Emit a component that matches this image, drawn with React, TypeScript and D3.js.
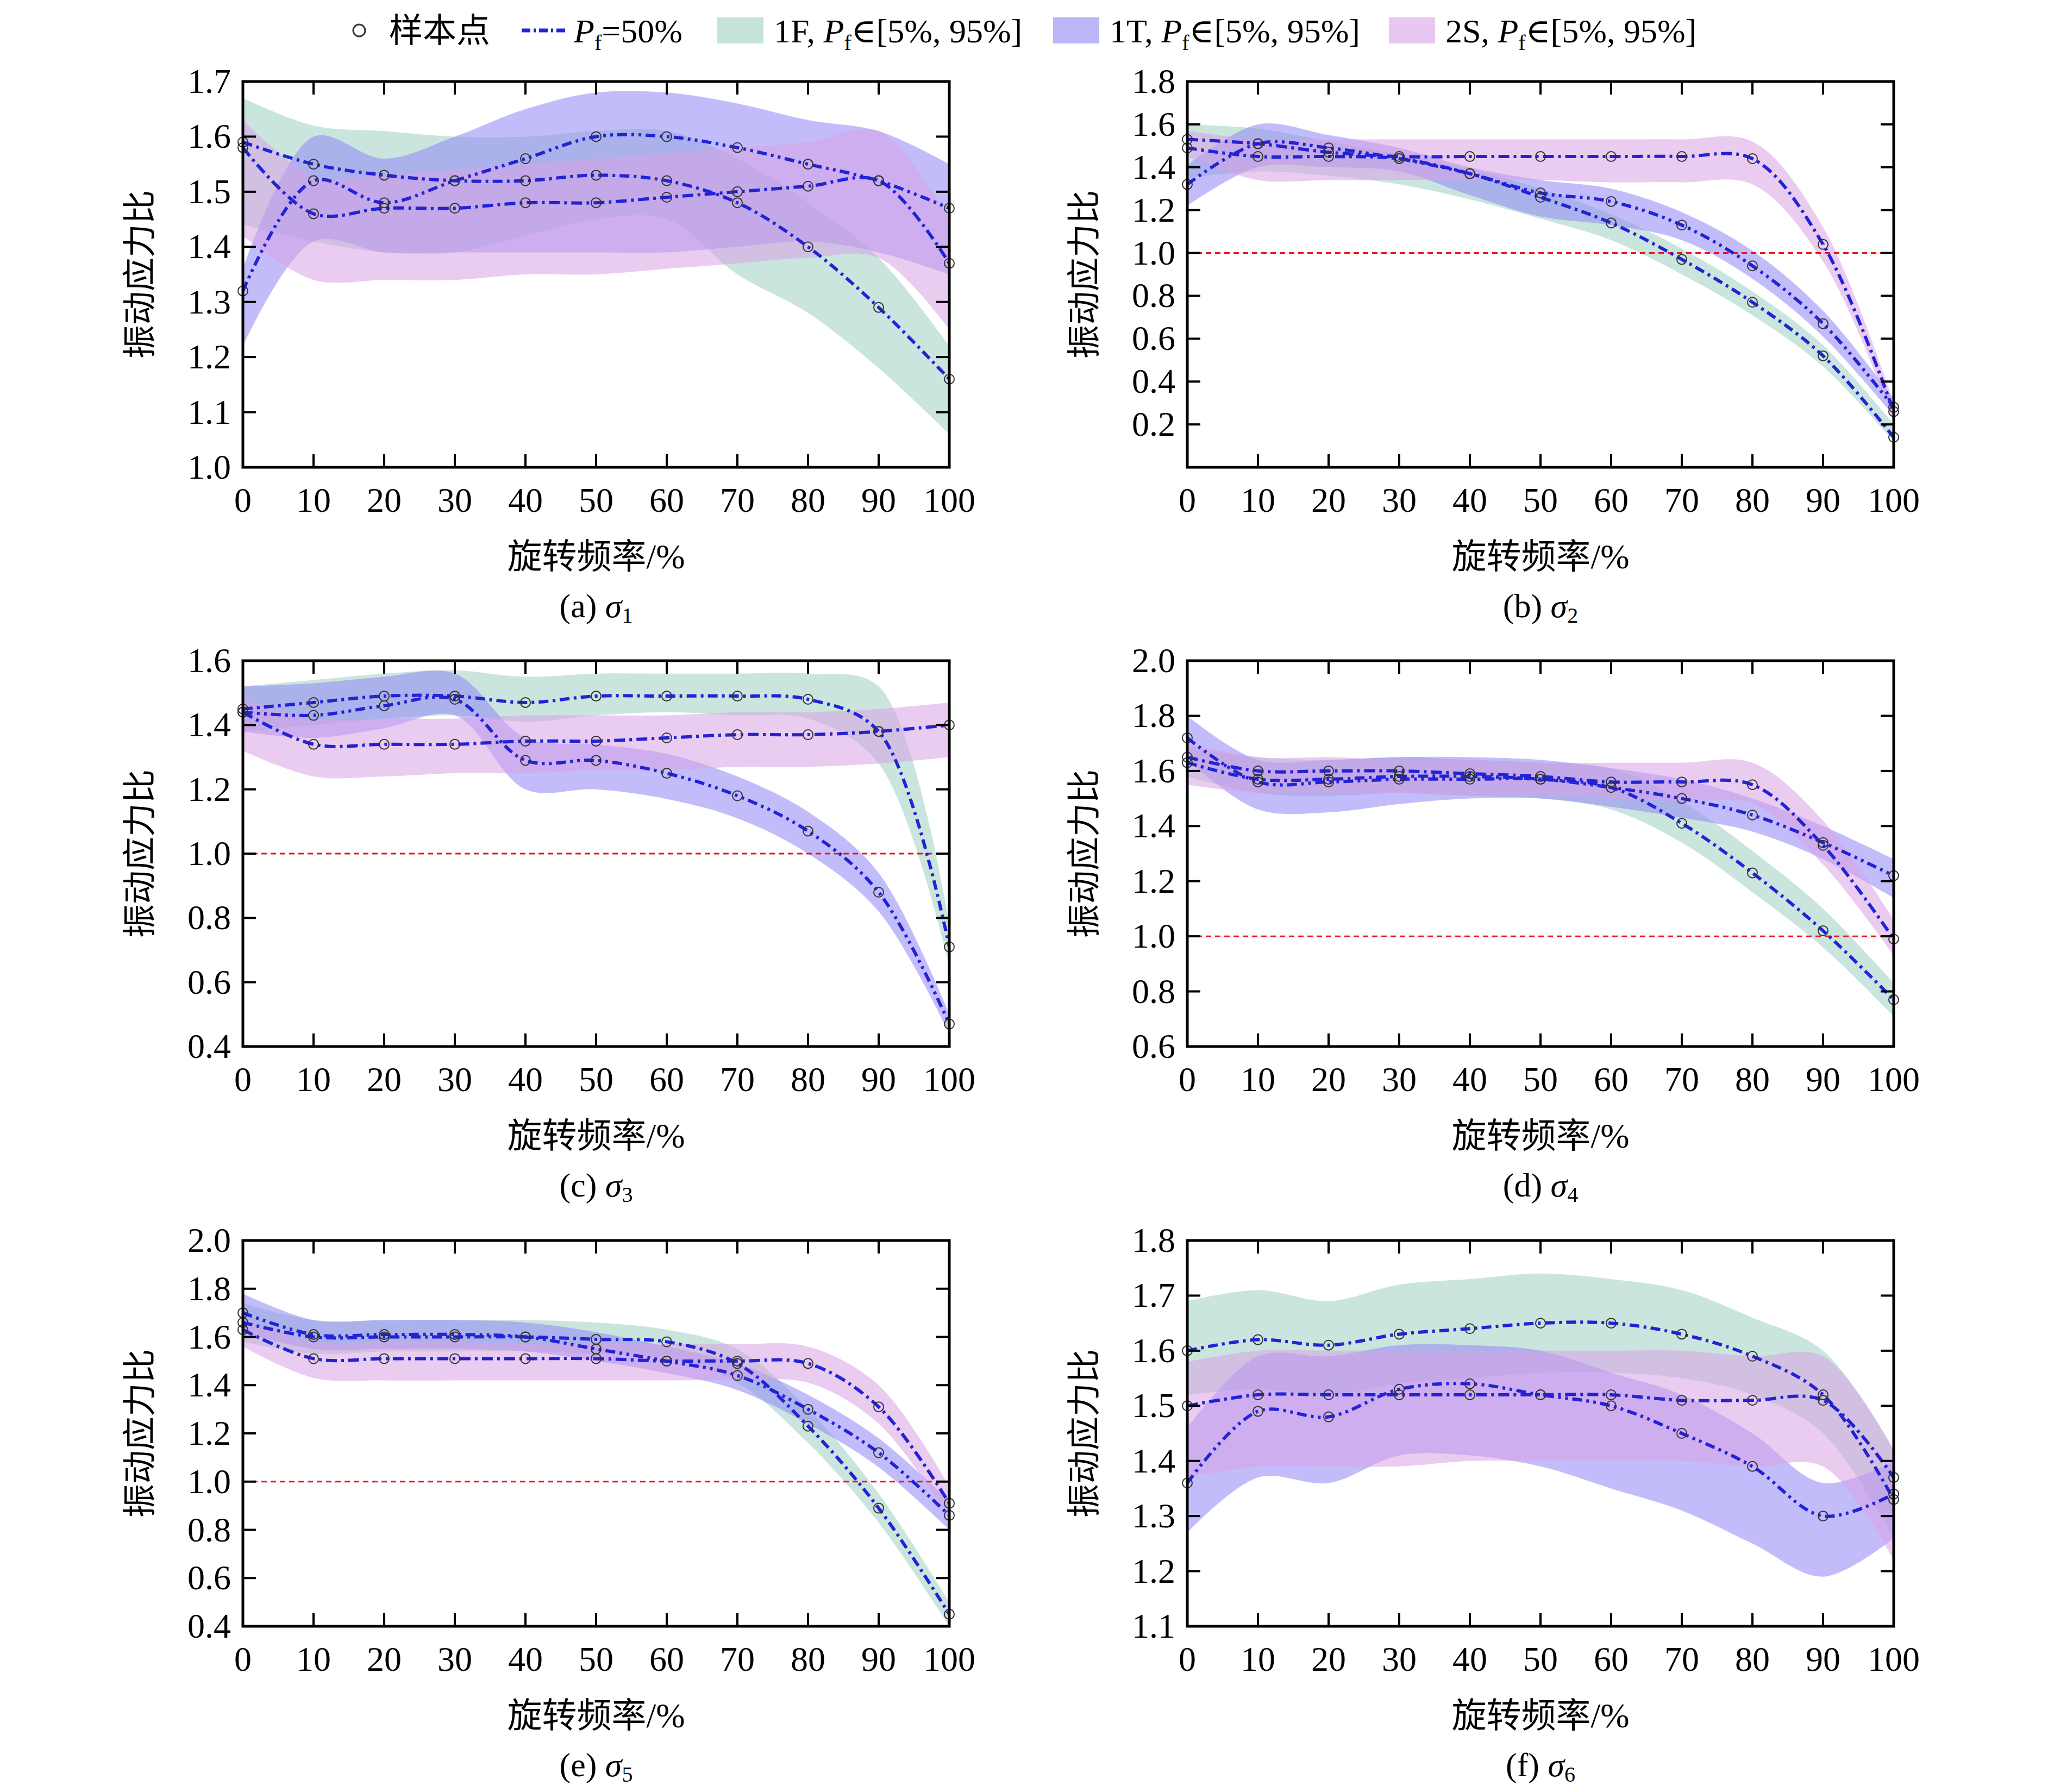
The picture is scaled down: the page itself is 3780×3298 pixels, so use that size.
import * as d3 from "d3";
import { useEffect, useRef } from "react";

const xs = [0, 10, 20, 30, 40, 50, 60, 70, 80, 90, 100];
const xTicks = xs;
const series = ["1F", "1T", "2S"];
const bandColors = ["#9fd0c2", "#8f86f5", "#d9a3e6"];

type Panel = {
  label: string;
  sub: string;
  domain: [number, number];
  ticks: number[];
  redLine: boolean;
  med: number[][];
  hi: number[][];
  lo: number[][];
};

const panelA: Panel = {
  label: "(a)", sub: "1", domain: [1.0, 1.7], ticks: [1.0, 1.1, 1.2, 1.3, 1.4, 1.5, 1.6, 1.7], redLine: false,
  med: [
    [1.59, 1.55, 1.53, 1.52, 1.52, 1.53, 1.52, 1.48, 1.40, 1.29, 1.16],
    [1.32, 1.52, 1.48, 1.52, 1.56, 1.60, 1.60, 1.58, 1.55, 1.52, 1.47],
    [1.58, 1.46, 1.47, 1.47, 1.48, 1.48, 1.49, 1.50, 1.51, 1.52, 1.37],
  ],
  hi: [
    [1.67, 1.62, 1.61, 1.60, 1.60, 1.61, 1.61, 1.56, 1.48, 1.38, 1.22],
    [1.36, 1.60, 1.56, 1.60, 1.65, 1.68, 1.68, 1.66, 1.63, 1.61, 1.55],
    [1.63, 1.53, 1.53, 1.54, 1.55, 1.56, 1.57, 1.58, 1.59, 1.61, 1.45],
  ],
  lo: [
    [1.44, 1.41, 1.39, 1.39, 1.42, 1.45, 1.45, 1.35, 1.28, 1.18, 1.06],
    [1.22, 1.41, 1.39, 1.39, 1.39, 1.39, 1.39, 1.40, 1.41, 1.39, 1.35],
    [1.42, 1.34, 1.34, 1.34, 1.35, 1.35, 1.36, 1.37, 1.38, 1.38, 1.25],
  ],
};

const panelB: Panel = {
  label: "(b)", sub: "2", domain: [0.0, 1.8], ticks: [0.2, 0.4, 0.6, 0.8, 1.0, 1.2, 1.4, 1.6, 1.8], redLine: true,
  med: [
    [1.49, 1.45, 1.45, 1.44, 1.37, 1.26, 1.14, 0.97, 0.77, 0.52, 0.14],
    [1.32, 1.51, 1.49, 1.44, 1.37, 1.28, 1.24, 1.13, 0.94, 0.67, 0.28],
    [1.53, 1.51, 1.47, 1.45, 1.45, 1.45, 1.45, 1.45, 1.44, 1.04, 0.26],
  ],
  hi: [
    [1.60, 1.58, 1.52, 1.46, 1.39, 1.30, 1.18, 1.02, 0.82, 0.57, 0.20],
    [1.41, 1.60, 1.55, 1.49, 1.40, 1.34, 1.30, 1.19, 1.01, 0.73, 0.32],
    [1.57, 1.53, 1.53, 1.53, 1.53, 1.53, 1.53, 1.53, 1.52, 1.12, 0.30],
  ],
  lo: [
    [1.35, 1.38, 1.36, 1.32, 1.25, 1.16, 1.06, 0.90, 0.71, 0.47, 0.12],
    [1.22, 1.40, 1.40, 1.38, 1.27, 1.17, 1.13, 1.06, 0.88, 0.61, 0.24],
    [1.45, 1.34, 1.34, 1.34, 1.34, 1.34, 1.33, 1.33, 1.32, 0.96, 0.22],
  ],
};

const panelC: Panel = {
  label: "(c)", sub: "3", domain: [0.4, 1.6], ticks: [0.4, 0.6, 0.8, 1.0, 1.2, 1.4, 1.6], redLine: true,
  med: [
    [1.45, 1.47, 1.49, 1.49, 1.47, 1.49, 1.49, 1.49, 1.48, 1.38, 0.71],
    [1.44, 1.43, 1.46, 1.48, 1.29, 1.29, 1.25, 1.18, 1.07, 0.88, 0.47],
    [1.44, 1.34, 1.34, 1.34, 1.35, 1.35, 1.36, 1.37, 1.37, 1.38, 1.40],
  ],
  hi: [
    [1.52, 1.54, 1.56, 1.57, 1.55, 1.56, 1.56, 1.56, 1.56, 1.52, 0.78],
    [1.52, 1.53, 1.55, 1.56, 1.36, 1.34, 1.31, 1.24, 1.13, 0.94, 0.50],
    [1.48, 1.42, 1.42, 1.42, 1.43, 1.43, 1.43, 1.44, 1.44, 1.45, 1.47],
  ],
  lo: [
    [1.38, 1.40, 1.42, 1.43, 1.41, 1.43, 1.44, 1.43, 1.42, 1.28, 0.65],
    [1.38, 1.36, 1.39, 1.43, 1.20, 1.20, 1.17, 1.11, 1.00, 0.82, 0.44],
    [1.32, 1.24, 1.24, 1.25, 1.25, 1.26, 1.26, 1.27, 1.27, 1.28, 1.30],
  ],
};

const panelD: Panel = {
  label: "(d)", sub: "4", domain: [0.6, 2.0], ticks: [0.6, 0.8, 1.0, 1.2, 1.4, 1.6, 1.8, 2.0], redLine: true,
  med: [
    [1.63, 1.57, 1.57, 1.58, 1.58, 1.57, 1.54, 1.41, 1.23, 1.02, 0.77],
    [1.72, 1.56, 1.56, 1.57, 1.57, 1.57, 1.54, 1.50, 1.44, 1.34, 1.22],
    [1.65, 1.60, 1.60, 1.60, 1.59, 1.58, 1.56, 1.56, 1.55, 1.33, 0.99],
  ],
  hi: [
    [1.69, 1.65, 1.64, 1.65, 1.64, 1.63, 1.61, 1.49, 1.31, 1.10, 0.83],
    [1.80, 1.64, 1.64, 1.65, 1.65, 1.64, 1.61, 1.57, 1.50, 1.40, 1.28],
    [1.70, 1.65, 1.65, 1.64, 1.64, 1.63, 1.63, 1.63, 1.63, 1.42, 1.06],
  ],
  lo: [
    [1.58, 1.52, 1.51, 1.52, 1.51, 1.50, 1.46, 1.34, 1.16, 0.96, 0.71],
    [1.64, 1.46, 1.45, 1.48, 1.50, 1.50, 1.47, 1.43, 1.38, 1.28, 1.14],
    [1.55, 1.52, 1.52, 1.52, 1.51, 1.51, 1.50, 1.49, 1.48, 1.26, 0.93],
  ],
};

const panelE: Panel = {
  label: "(e)", sub: "5", domain: [0.4, 2.0], ticks: [0.4, 0.6, 0.8, 1.0, 1.2, 1.4, 1.6, 1.8, 2.0], redLine: true,
  med: [
    [1.66, 1.60, 1.60, 1.60, 1.60, 1.59, 1.58, 1.49, 1.23, 0.89, 0.45],
    [1.70, 1.61, 1.61, 1.61, 1.60, 1.55, 1.50, 1.44, 1.30, 1.12, 0.86],
    [1.63, 1.51, 1.51, 1.51, 1.51, 1.51, 1.50, 1.50, 1.49, 1.31, 0.91],
  ],
  hi: [
    [1.74, 1.67, 1.67, 1.67, 1.67, 1.66, 1.63, 1.55, 1.30, 0.95, 0.50],
    [1.78, 1.67, 1.67, 1.67, 1.66, 1.62, 1.56, 1.49, 1.36, 1.18, 0.92],
    [1.68, 1.58, 1.58, 1.58, 1.57, 1.57, 1.57, 1.57, 1.56, 1.40, 0.98],
  ],
  lo: [
    [1.58, 1.53, 1.54, 1.54, 1.54, 1.53, 1.51, 1.41, 1.16, 0.83, 0.40],
    [1.62, 1.55, 1.55, 1.55, 1.54, 1.50, 1.45, 1.38, 1.24, 1.06, 0.80],
    [1.56, 1.43, 1.42, 1.42, 1.42, 1.42, 1.42, 1.42, 1.41, 1.24, 0.85],
  ],
};

const panelF: Panel = {
  label: "(f)", sub: "6", domain: [1.1, 1.8], ticks: [1.1, 1.2, 1.3, 1.4, 1.5, 1.6, 1.7, 1.8], redLine: false,
  med: [
    [1.60, 1.62, 1.61, 1.63, 1.64, 1.65, 1.65, 1.63, 1.59, 1.52, 1.33],
    [1.36, 1.49, 1.48, 1.53, 1.54, 1.52, 1.50, 1.45, 1.39, 1.30, 1.34],
    [1.50, 1.52, 1.52, 1.52, 1.52, 1.52, 1.52, 1.51, 1.51, 1.51, 1.37],
  ],
  hi: [
    [1.69, 1.71, 1.69, 1.72, 1.73, 1.74, 1.73, 1.71, 1.66, 1.60, 1.42],
    [1.46, 1.59, 1.59, 1.61, 1.61, 1.60, 1.56, 1.52, 1.45, 1.36, 1.40],
    [1.58, 1.60, 1.60, 1.60, 1.60, 1.60, 1.60, 1.60, 1.59, 1.59, 1.42],
  ],
  lo: [
    [1.52, 1.53, 1.52, 1.54, 1.55, 1.56, 1.56, 1.55, 1.52, 1.45, 1.26],
    [1.27, 1.37, 1.36, 1.41, 1.41, 1.39, 1.35, 1.31, 1.25, 1.19, 1.26],
    [1.37, 1.39, 1.39, 1.39, 1.40, 1.40, 1.40, 1.40, 1.39, 1.39, 1.22],
  ],
};

const panels = [panelA, panelB, panelC, panelD, panelE, panelF];

const W = 3780;
const H = 3298;
const FONT = "'Liberation Serif', 'DejaVu Serif', serif";
const CJK = "'Noto Sans CJK SC', sans-serif";
const lineColor = "#2222d6";

export default function App() {
  const ref = useRef<SVGSVGElement | null>(null);

  useEffect(() => {
    if (!ref.current) return;
    const svg = d3.select(ref.current);
    svg.selectAll("*").remove();
    svg.append("rect").attr("width", W).attr("height", H).attr("fill", "#fff");

    const pw = 1300;
    const ph = 710;
    const lefts = [447, 2185];
    const tops = [150, 1216, 2283];

    panels.forEach((p, i) => {
      const left = lefts[i % 2];
      const top = tops[Math.floor(i / 2)];
      const g = svg.append("g").attr("transform", `translate(${left},${top})`);
      const x = d3.scaleLinear().domain([0, 100]).range([0, pw]);
      const y = d3.scaleLinear().domain(p.domain).range([ph, 0]);
      const clipId = `clip${i}`;
      g.append("clipPath").attr("id", clipId).append("rect").attr("width", pw).attr("height", ph);
      const plot = g.append("g").attr("clip-path", `url(#${clipId})`);

      series.forEach((_, s) => {
        const area = d3
          .area<number>()
          .x((_, k) => x(xs[k]))
          .y0((_, k) => y(p.lo[s][k]))
          .y1((_, k) => y(p.hi[s][k]))
          .curve(d3.curveCatmullRom);
        plot.append("path").attr("d", area(p.hi[s])).attr("fill", bandColors[s]).attr("fill-opacity", 0.55);
      });

      if (p.redLine) {
        plot
          .append("line")
          .attr("x1", 0).attr("x2", pw)
          .attr("y1", y(1)).attr("y2", y(1))
          .attr("stroke", "#e8161b").attr("stroke-width", 3).attr("stroke-dasharray", "10 7");
      }

      const dashes = ["18 8 5 8", "18 8 5 8 5 8", "20 8 5 8"];
      series.forEach((_, s) => {
        const line = d3
          .line<number>()
          .x((_, k) => x(xs[k]))
          .y((v) => y(v))
          .curve(d3.curveCatmullRom);
        plot
          .append("path")
          .attr("d", line(p.med[s]))
          .attr("fill", "none")
          .attr("stroke", lineColor)
          .attr("stroke-width", 6)
          .attr("stroke-dasharray", dashes[s]);
        p.med[s].forEach((v, k) => {
          g.append("circle")
            .attr("cx", x(xs[k])).attr("cy", y(v)).attr("r", 9)
            .attr("fill", "none").attr("stroke", "#333").attr("stroke-width", 2);
        });
      });

      g.append("rect").attr("width", pw).attr("height", ph).attr("fill", "none").attr("stroke", "#000").attr("stroke-width", 5);
      xTicks.forEach((t) => {
        g.append("line").attr("x1", x(t)).attr("x2", x(t)).attr("y1", ph).attr("y2", ph - 24).attr("stroke", "#000").attr("stroke-width", 4);
        g.append("line").attr("x1", x(t)).attr("x2", x(t)).attr("y1", 0).attr("y2", 24).attr("stroke", "#000").attr("stroke-width", 4);
        g.append("text").attr("x", x(t)).attr("y", ph + 82).attr("text-anchor", "middle")
          .attr("font-family", FONT).attr("font-size", 64).text(t);
      });
      p.ticks.forEach((t) => {
        g.append("line").attr("x1", 0).attr("x2", 24).attr("y1", y(t)).attr("y2", y(t)).attr("stroke", "#000").attr("stroke-width", 4);
        g.append("line").attr("x1", pw).attr("x2", pw - 24).attr("y1", y(t)).attr("y2", y(t)).attr("stroke", "#000").attr("stroke-width", 4);
        g.append("text").attr("x", -22).attr("y", y(t) + 21).attr("text-anchor", "end")
          .attr("font-family", FONT).attr("font-size", 64).text(t.toFixed(1));
      });

      g.append("text")
        .attr("transform", `translate(-168,${ph / 2}) rotate(-90)`)
        .attr("text-anchor", "middle").attr("font-family", CJK).attr("font-size", 62)
        .text("振动应力比");
      const xt = g.append("text").attr("x", pw / 2).attr("y", ph + 186).attr("text-anchor", "middle").attr("font-size", 64);
      xt.append("tspan").attr("font-family", CJK).text("旋转频率");
      xt.append("tspan").attr("font-family", FONT).text("/%");
      const cap = g.append("text").attr("x", pw / 2).attr("y", ph + 276).attr("text-anchor", "middle")
        .attr("font-family", FONT).attr("font-size", 62);
      cap.append("tspan").text(`${p.label} `);
      cap.append("tspan").attr("font-style", "italic").text("σ");
      cap.append("tspan").attr("font-size", 40).attr("dy", 10).text(p.sub);
    });

    const ly = 56;
    const lg = svg.append("g").attr("font-family", FONT).attr("font-size", 62);
    lg.append("circle").attr("cx", 661).attr("cy", ly).attr("r", 11).attr("fill", "none").attr("stroke", "#333").attr("stroke-width", 3);
    lg.append("text").attr("x", 716).attr("y", ly + 22).attr("font-family", CJK).text("样本点");
    lg.append("line").attr("x1", 960).attr("x2", 1042).attr("y1", ly).attr("y2", ly)
      .attr("stroke", lineColor).attr("stroke-width", 7).attr("stroke-dasharray", "16 6 4 6");
    const pf = lg.append("text").attr("x", 1056).attr("y", ly + 22);
    pf.append("tspan").attr("font-style", "italic").text("P");
    pf.append("tspan").attr("font-size", 40).attr("dy", 14).text("f");
    pf.append("tspan").attr("dy", -14).text("=50%");
    const labels = ["1F", "1T", "2S"];
    const lx = [1320, 1938, 2556];
    labels.forEach((l, s) => {
      lg.append("rect").attr("x", lx[s]).attr("y", ly - 24).attr("width", 85).attr("height", 48)
        .attr("fill", bandColors[s]).attr("fill-opacity", 0.6);
      const t = lg.append("text").attr("x", lx[s] + 104).attr("y", ly + 22);
      t.append("tspan").text(`${l}, `);
      t.append("tspan").attr("font-style", "italic").text("P");
      t.append("tspan").attr("font-size", 40).attr("dy", 14).text("f");
      t.append("tspan").attr("dy", -14).text("∈[5%, 95%]");
    });
  }, []);

  return <svg ref={ref} width={W} height={H} style={{ position: "absolute", left: 0, top: 0 }} />;
}
